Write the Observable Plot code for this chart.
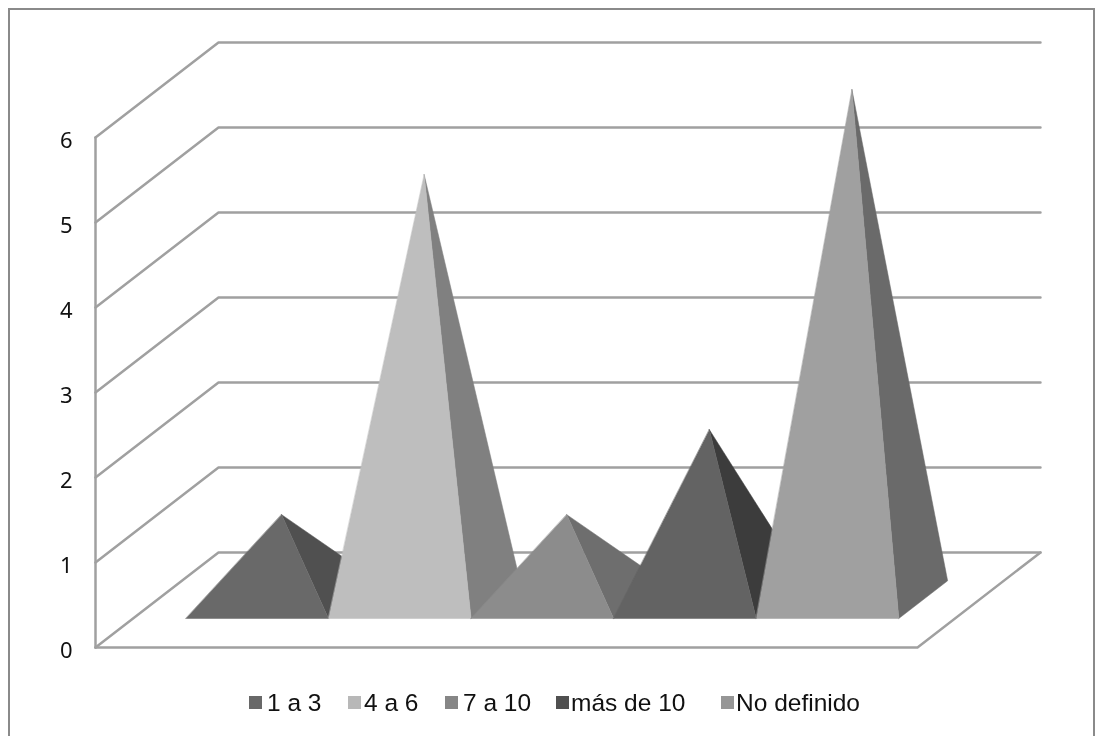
<!DOCTYPE html>
<html lang="es">
<head>
<meta charset="utf-8">
<script src="https://cdn.jsdelivr.net/npm/d3@7"></script>
<script src="https://cdn.jsdelivr.net/npm/@observablehq/plot@0.6"></script>
<style>
  html, body { margin: 0; padding: 0; background: #fff; }
  #frame { position: relative; width: 1096px; height: 736px; overflow: hidden; filter: blur(0.4px); }
  #frame::before { content: ""; position: absolute; left: 8px; top: 8px; width: 1083px; height: 740px;
    border: 2px solid #8a8a8a; box-sizing: content-box; }
  #chart { position: absolute; left: 0; top: 0; }
  #legend { position: absolute; left: 0; top: 688px; width: 1096px; height: 30px;
    font: 24.5px "Liberation Sans", Arial, sans-serif; color: #111; }
  #legend span.item { position: absolute; top: 0; white-space: nowrap; line-height: 30px; }
  #legend i { position: absolute; top: 8px; width: 13px; height: 13px; }
</style>
</head>
<body>
<div id="frame">
  <div id="chart"></div>
  <div id="legend"></div>
</div>
<script>
// Data
const categories = ["1 a 3", "4 a 6", "7 a 10", "más de 10", "No definido"];
const values = [1, 5, 1, 2, 6];
const yTicks = [0, 1, 2, 3, 4, 5, 6];

// Styling
const frontColors = ["#696969", "#bebebe", "#8c8c8c", "#636363", "#a0a0a0"];
const sideColors = ["#505050", "#808080", "#6e6e6e", "#3c3c3c", "#6a6a6a"];
const swatchColors = ["#686868", "#b8b8b8", "#868686", "#505050", "#969696"];
const legendSwatchLeft = [249, 348, 445, 556, 721];
const legendTextLeft = [267, 364, 463, 571, 736];

// Oblique projection parameters, in data units
const floorWidth = 5.765;   // floor width, in pyramid widths
const sidePad = 0.371;      // floor margin before the first pyramid
const depthX = 0.8625;      // x shift of the full depth
const depthY = 1.118;       // y shift of the full depth
const baseFront = 0.305, baseBack = 0.702;
const grid = "#a0a0a0";

const project = (u, v, d) => ({x: u + d * depthX, y: v + d * depthY});

const wallLines = yTicks.map((v) => [project(0, v, 0), project(0, v, 1), project(floorWidth, v, 1)]);
const floorFront = [project(0, 0, 0), project(floorWidth, 0, 0), project(floorWidth, 0, 1)];
const axisLine = [project(0, 0, 0), project(0, d3.max(yTicks), 0)];

const faces = categories.flatMap((c, i) => {
  const left = sidePad + i, right = left + 1, mid = left + 0.5, dMid = (baseFront + baseBack) / 2;
  const apex = project(mid, values[i], dMid);
  return [
    {pts: [project(right, 0, baseFront), project(right, 0, baseBack), apex], color: sideColors[i]},
    {pts: [project(left, 0, baseFront), project(right, 0, baseFront), apex], color: frontColors[i]}
  ];
});

const lineOpts = {x: "x", y: "y", stroke: grid, strokeWidth: 2.5, curve: "linear"};

const plot = Plot.plot({
  width: 1096,
  height: 670,
  marginLeft: 95,
  marginRight: 179,
  marginTop: 137,
  marginBottom: 23,
  style: {background: "transparent"},
  x: {domain: [0, floorWidth], axis: null},
  y: {domain: [0, d3.max(yTicks)]},
  marks: [
    ...wallLines.map((l) => Plot.line(l, lineOpts)),
    Plot.line(floorFront, lineOpts),
    Plot.line(axisLine, lineOpts),
    ...faces.map((f) => Plot.line(f.pts, {x: "x", y: "y", fill: f.color, stroke: f.color, strokeWidth: 0.5, curve: "linear-closed"})),
    Plot.axisY({ticks: yTicks, tickFormat: (d) => String(d), tickSize: 0, tickPadding: 23, label: null,
      fontSize: 22, fontFamily: "Noto Sans", fill: "#111", dy: 3})
  ]
});
document.getElementById("chart").appendChild(plot);

const legend = document.getElementById("legend");
categories.forEach((c, i) => {
  const sw = document.createElement("i");
  sw.style.left = legendSwatchLeft[i] + "px";
  sw.style.background = swatchColors[i];
  legend.appendChild(sw);
  const t = document.createElement("span");
  t.className = "item";
  t.style.left = legendTextLeft[i] + "px";
  t.textContent = c;
  legend.appendChild(t);
});
</script>
</body>
</html>
